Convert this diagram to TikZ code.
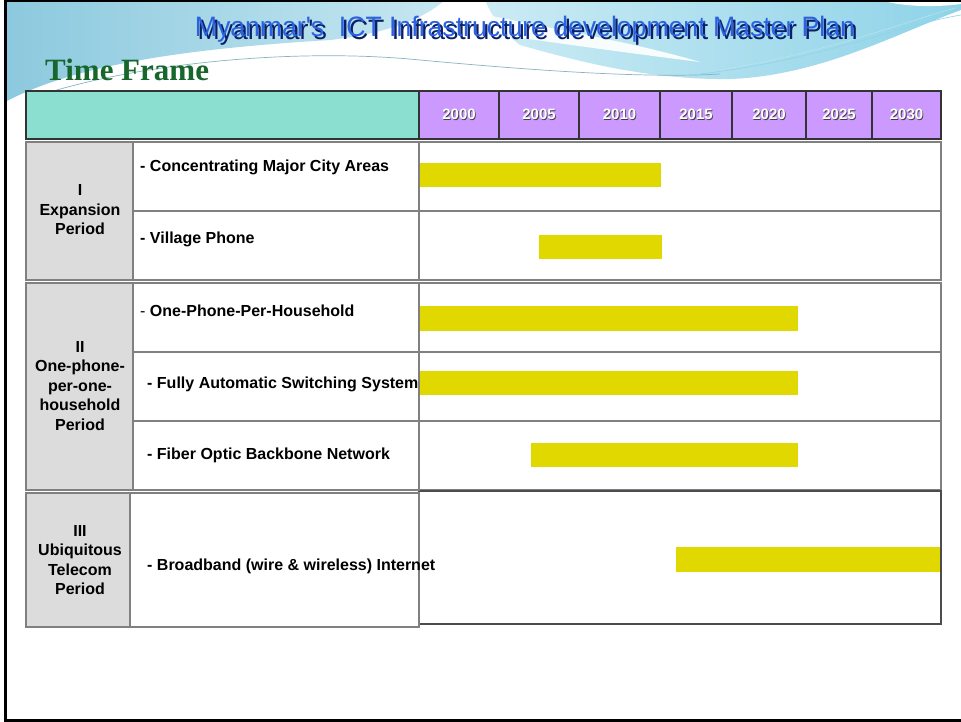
\documentclass[tikz,border=0pt]{standalone}
\usepackage{fontspec}
\setmainfont{Liberation Sans}
\newfontfamily\serifbold{Liberation Serif}[BoldFont={Liberation Serif Bold}]
\usepackage{graphicx}
\definecolor{hdrteal}{HTML}{8ADFD0}
\definecolor{hdrpurple}{HTML}{CC99FF}
\definecolor{grpgray}{HTML}{DCDCDC}
\definecolor{baryellow}{HTML}{E1D800}
\definecolor{titleblue}{HTML}{2A62E0}
\definecolor{titledark}{HTML}{0B1F66}
\definecolor{tfgreen}{HTML}{17662B}
\definecolor{waveleft}{HTML}{8CC9DE}
\definecolor{waveleftlight}{HTML}{C6E7F1}
\definecolor{waveright}{HTML}{8FD3E8}
\definecolor{waverightlight}{HTML}{CBEBF4}
\newcommand{\shadowtxt}[1]{\rlap{\raisebox{-0.9pt}{\hspace{0.9pt}\textcolor{black!75}{#1}}}\textcolor{white}{#1}}
\newcommand{\outlinetxt}[1]{%
\rlap{\raisebox{-1pt}{\hspace{1pt}\textcolor{titledark}{#1}}}%
\textcolor{titleblue}{#1}}
\newcommand{\cellbox}[6]{\node[cellnode,#6,anchor=north west,minimum width={#4-#2},minimum height={#5-#3}] (#1) at (#2,#3) {};}
\begin{document}
\begin{tikzpicture}[x=1pt,y=-1pt,
  cellnode/.style={draw=black!50,line width=1.2pt,inner sep=0pt,outer sep=0pt},
  hdrcell/.style={draw=black!80,line width=1.2pt,inner sep=0pt,outer sep=0pt,fill=hdrpurple,anchor=north west,minimum height=48},
  bar/.style={fill=baryellow,draw=none},
  item/.style={anchor=west,inner sep=0pt,font=\fontsize{16}{19}\selectfont\bfseries},
  grplabel/.style={align=center,inner sep=0pt,font=\fontsize{16}{19.5}\selectfont\bfseries},
  yearlbl/.style={inner sep=0pt,font=\fontsize{15}{16}\selectfont\bfseries}]
\useasboundingbox (0,0) rectangle (961,721);
\fill[white] (0,0) rectangle (961,721);
% decorative waves
\shade[left color=waveleft,right color=waveleftlight] (5,0) -- (445,0) .. controls (420,22) and (380,34) .. (330,40) .. controls (200,48) and (80,62) .. (5,102) -- cycle;
\shade[left color=waverightlight,right color=waveright] (485,0) -- (961,0) -- (961,10) .. controls (900,32) and (820,76) .. (730,79) .. controls (650,80) and (580,62) .. (520,45) .. controls (500,30) and (490,12) .. (485,0) -- cycle;
\fill[white,opacity=0.9] (492,16) .. controls (560,30) and (640,44) .. (700,62) .. controls (620,52) and (550,42) .. (508,36) -- cycle;
\fill[white] (880,0) -- (961,0) -- (961,4) .. controls (930,8) and (900,6) .. (880,0) -- cycle;
\draw[waveleft!70!gray,line width=0.7pt] (50,92) .. controls (150,62) and (300,48) .. (420,60) .. controls (550,72) and (650,78) .. (720,74);
\draw[waveright,line width=0.6pt] (700,74) .. controls (820,60) and (900,25) .. (961,15);
\draw[waveright!60,line width=0.5pt] (720,70) .. controls (830,52) and (910,20) .. (955,8);
% frame
\draw[line width=3pt] (5,0) -- (5,720) -- (961,720);
\draw[line width=1.5pt] (5,0.75) -- (961,0.75);
% title
\node[inner sep=0pt] (title) at (525,31) {\resizebox*{660pt}{29pt}{\outlinetxt{Myanmar\textquotesingle s\ \ ICT Infrastructure development Master Plan}}};
\node[anchor=west,inner sep=0pt,font=\serifbold\fontsize{31}{31}\selectfont\bfseries,text=tfgreen] (tf) at (45,70) {Time Frame};
% header
\node[cellnode,draw=black!80,fill=hdrteal,anchor=north west,minimum width=393,minimum height=48] (h0) at (26,91) {};
\node[hdrcell,minimum width=80] (h1) at (419,91) {};
\node[hdrcell,minimum width=80] (h2) at (499,91) {};
\node[hdrcell,minimum width=81] (h3) at (579,91) {};
\node[hdrcell,minimum width=72] (h4) at (660,91) {};
\node[hdrcell,minimum width=74] (h5) at (732,91) {};
\node[hdrcell,minimum width=66] (h6) at (806,91) {};
\node[hdrcell,minimum width=69] (h7) at (872,91) {};
\node[yearlbl] (y1) at (h1.center) {\shadowtxt{2000}};
\node[yearlbl] (y2) at (h2.center) {\shadowtxt{2005}};
\node[yearlbl] (y3) at (h3.center) {\shadowtxt{2010}};
\node[yearlbl] (y4) at (h4.center) {\shadowtxt{2015}};
\node[yearlbl] (y5) at (h5.center) {\shadowtxt{2020}};
\node[yearlbl] (y6) at (h6.center) {\shadowtxt{2025}};
\node[yearlbl] (y7) at (h7.center) {\shadowtxt{2030}};
% right (timeline) cells
\cellbox{r1}{419}{142}{941}{211}{fill=white}
\cellbox{r2}{419}{211}{941}{280}{fill=white}
\cellbox{r3}{419}{283}{941}{352}{fill=white}
\cellbox{r4}{419}{352}{941}{421}{fill=white}
\cellbox{r5}{419}{421}{941}{490}{fill=white}
\cellbox{r6}{419}{491}{941}{624}{fill=white,draw=black!70}
% bars
\fill[bar] (419,163) rectangle (661,187);
\fill[bar] (539,235) rectangle (662,259);
\fill[bar] (419,306) rectangle (798,331);
\fill[bar] (419,371) rectangle (798,395);
\fill[bar] (531,443) rectangle (798,467);
\fill[bar] (676,547) rectangle (940,572);
% group cells
\cellbox{g1}{26}{142}{133}{280}{fill=grpgray}
\cellbox{g2}{26}{283}{133}{490}{fill=grpgray}
\cellbox{g3}{26}{493}{130}{627}{fill=grpgray}
% middle cells
\cellbox{m1}{133}{142}{419}{211}{fill=white}
\cellbox{m2}{133}{211}{419}{280}{fill=white}
\cellbox{m3}{133}{283}{419}{352}{fill=white}
\cellbox{m4}{133}{352}{419}{421}{fill=white}
\cellbox{m5}{133}{421}{419}{490}{fill=white}
\cellbox{m6}{130}{493}{419}{627}{fill=white}
% group labels
\node[grplabel] (gl1) at (80,210) {I\\Expansion\\Period};
\node[grplabel] (gl2) at (80,386) {II\\One-phone-\\per-one-\\household\\Period};
\node[grplabel] (gl3) at (80,560) {III\\Ubiquitous\\Telecom\\Period};
% items
\node[item] (t1) at (140,167) {- Concentrating Major City Areas};
\node[item] (t2) at (140,239) {- Village Phone};
\node[item] (t3) at (140,311) {{\mdseries -} One-Phone-Per-Household};
\node[item] (t4) at (147,384) {- Fully Automatic Switching System};
\node[item] (t5) at (147,455) {- Fiber Optic Backbone Network};
\node[item] (t6) at (147,566) {- Broadband (wire \& wireless) Internet};
\end{tikzpicture}
\end{document}
